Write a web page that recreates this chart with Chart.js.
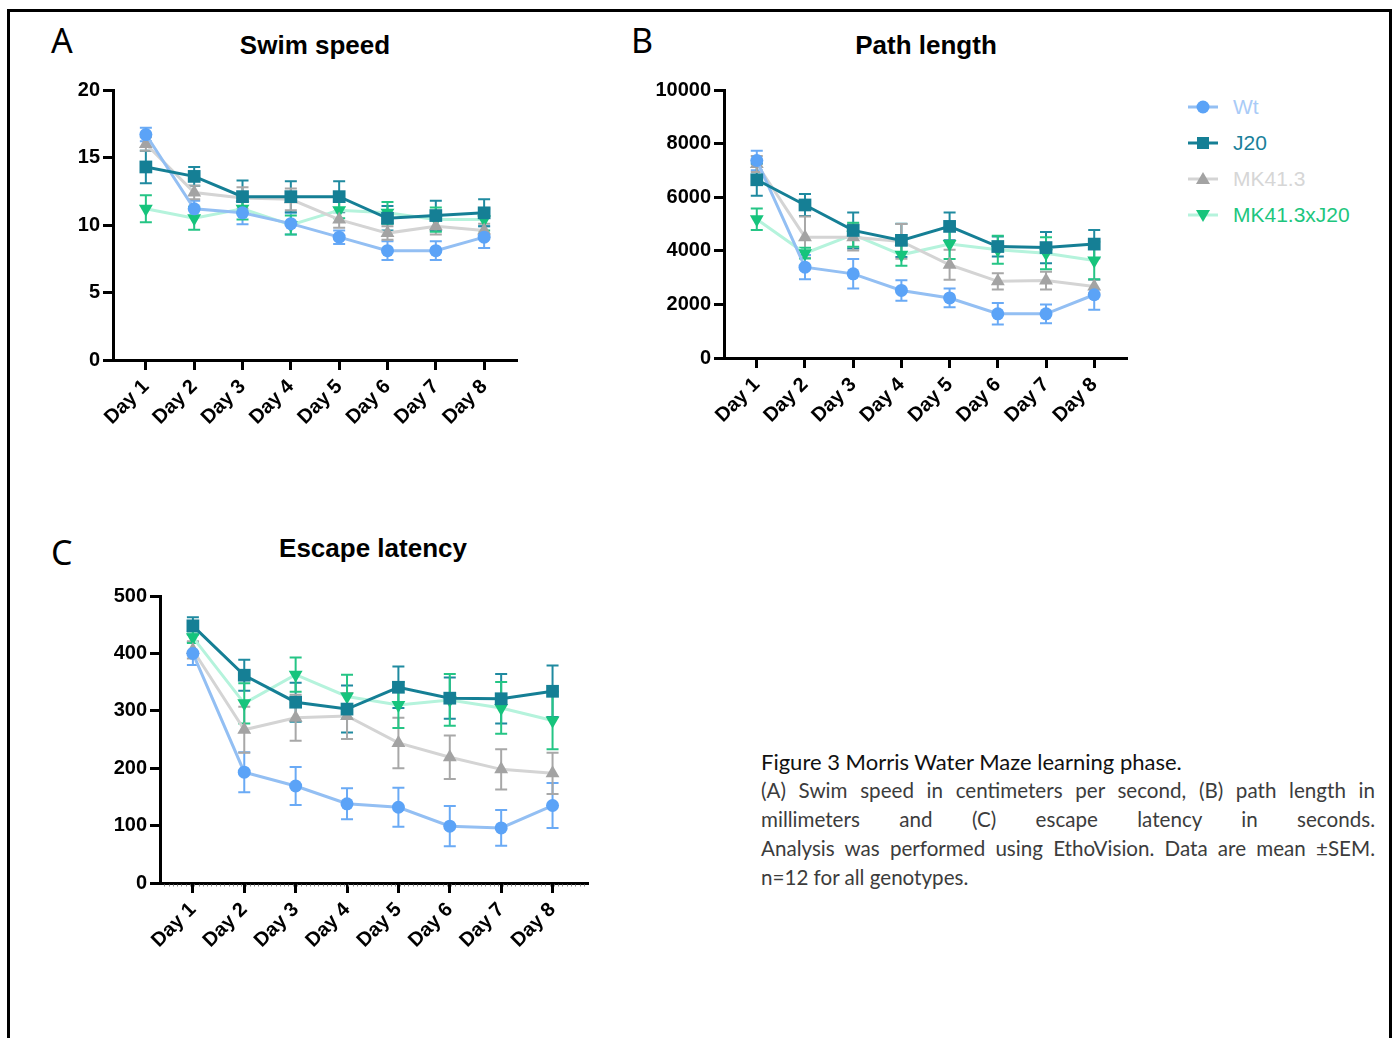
<!DOCTYPE html>
<html>
<head>
<meta charset="utf-8">
<script src="https://cdn.jsdelivr.net/npm/chart.js@4.4.1/dist/chart.umd.min.js"></script>
<style>
  body { margin: 0; background: #fff; width: 1394px; height: 1038px; position: relative; overflow: hidden;
         font-family: "Liberation Sans", Arial, sans-serif; }
  canvas { position: absolute; }
  .frame { position: absolute; left: 7px; top: 9px; width: 1379px; height: 1040px;
           border-top: 3px solid #000; border-left: 3px solid #000; border-right: 3px solid #000; }
  .lbl { position: absolute; white-space: nowrap; }
  .letter { font-family: "Noto Sans", sans-serif; font-size: 34px; height: 40px; line-height: 40px; color: #000; }
  .title { font-weight: bold; font-size: 26px; height: 30px; line-height: 30px; color: #000;
           width: 400px; text-align: center; }
  .leg { position: absolute; left: 1186px; height: 24px; }
  .leg svg { position: absolute; left: 0; top: 0; }
  .leg span { position: absolute; left: 47px; top: 0; line-height: 24px; font-size: 21px; white-space: nowrap; }
  .cap { position: absolute; left: 761px; width: 614px; font-family: Lato, "Open Sans", sans-serif; }
  .cap div { height: 29px; line-height: 29px; }
  .cap .head { font-size: 22px; color: #111; }
  .cap .j { text-align: justify; text-align-last: justify; font-size: 20.6px; color: #3c3c3c; }
  .cap .l { font-size: 20.6px; color: #3c3c3c; }
</style>
</head>
<body>
<div class="frame"></div>

<div class="lbl letter" style="left:51px; top:20px;">A</div>
<div class="lbl letter" style="left:631px; top:20px;">B</div>
<div class="lbl letter" style="left:51px; top:532px;">C</div>

<div class="lbl title" style="left:115px; top:30px;">Swim speed</div>
<div class="lbl title" style="left:726px; top:30px;">Path length</div>
<div class="lbl title" style="left:173px; top:533px;">Escape latency</div>

<canvas id="chartA" width="520" height="400" style="left:30px; top:60px;"></canvas>
<canvas id="chartB" width="520" height="400" style="left:640px; top:60px;"></canvas>
<canvas id="chartC" width="560" height="420" style="left:60px; top:560px;"></canvas>

<div id="legend"></div>

<div class="cap" style="top:747px;">
  <div class="head">Figure 3 Morris Water Maze learning phase.</div>
  <div class="j">(A) Swim speed in centimeters per second, (B) path length in</div>
  <div class="j">millimeters and (C) escape latency in seconds.</div>
  <div class="j">Analysis was performed using EthoVision. Data are mean ±SEM.</div>
  <div class="l">n=12 for all genotypes.</div>
</div>

<script>
const days = ['Day 1', 'Day 2', 'Day 3', 'Day 4', 'Day 5', 'Day 6', 'Day 7', 'Day 8'];
const dayIdx = [1, 2, 3, 4, 5, 6, 7, 8];
const groups = ['Wt', 'J20', 'MK41.3', 'MK41.3xJ20'];

// A - swim speed (cm/s), mean and SEM
const swimWt = [16.7, 11.2, 10.9, 10.1, 9.1, 8.1, 8.1, 9.1];
const swimWtErr = [0.5, 0.6, 0.85, 0.8, 0.5, 0.7, 0.7, 0.8];
const swimJ20 = [14.3, 13.6, 12.1, 12.1, 12.1, 10.5, 10.7, 10.9];
const swimJ20Err = [1.2, 0.7, 1.2, 1.15, 1.15, 0.9, 1.1, 1.0];
const swimMK = [16.0, 12.4, 12.0, 11.9, 10.4, 9.4, 9.9, 9.6];
const swimMKErr = [0.5, 0.5, 0.8, 0.8, 0.6, 0.5, 0.6, 0.5];
const swimMKJ = [11.2, 10.5, 11.2, 10.0, 11.1, 10.9, 10.4, 10.4];
const swimMKJErr = [1.0, 0.85, 0.8, 0.7, 0.6, 0.8, 0.9, 0.8];

// B - path length (mm)
const pathWt = [7370, 3390, 3140, 2520, 2240, 1650, 1650, 2360];
const pathWtErr = [360, 450, 550, 380, 350, 400, 350, 560];
const pathJ20 = [6650, 5710, 4760, 4390, 4910, 4160, 4120, 4250];
const pathJ20Err = [600, 410, 670, 620, 520, 370, 580, 530];
const pathMK = [7240, 4510, 4510, 4350, 3480, 2860, 2890, 2670];
const pathMKErr = [300, 770, 500, 650, 560, 300, 330, 250];
const pathMKJ = [5180, 3910, 4600, 3850, 4250, 4040, 3910, 3640];
const pathMKJErr = [400, 200, 450, 410, 560, 520, 600, 700];

// C - escape latency (s)
const latWt = [400, 193, 169, 138, 132, 99, 96, 135];
const latWtErr = [20, 35, 33, 27, 34, 35, 31, 39];
const latJ20 = [448, 362, 315, 303, 341, 322, 321, 334];
const latJ20Err = [15, 27, 34, 41, 36, 36, 43, 45];
const latMK = [406, 267, 288, 291, 244, 219, 198, 191];
const latMKErr = [15, 40, 40, 40, 44, 38, 35, 36];
const latMKJ = [428, 313, 363, 325, 310, 319, 305, 283];
const latMKJErr = [10, 35, 30, 38, 40, 45, 45, 50];

// style per group: marker colour, line colour, point style
const styles = [
  { mark: '#5ba3f7', line: '#93bff3', err: '#6aaaf5', text: '#a9cbf7', shape: 'circle', r: 6.5, rot: 0, order: 1 },
  { mark: '#157f95', line: '#157f95', err: '#1f8aa0', text: '#1a7f9a', shape: 'rect', r: 9, rot: 0, order: 0 },
  { mark: '#a3a3a3', line: '#d4d4d4', err: '#a8a8a8', text: '#d6d6d6', shape: 'triangle', r: 8, rot: 0, order: 2 },
  { mark: '#16c47c', line: '#b5f3dc', err: '#25c585', text: '#1dc67e', shape: 'triangle', r: 8, rot: 180, order: 3 }
];

const errorBars = {
  id: 'errorBars',
  beforeDatasetsDraw(chart) {
    const { ctx, scales: { x, y } } = chart;
    chart.data.datasets.forEach(ds => {
      ctx.save();
      ctx.strokeStyle = ds.errColor;
      ctx.lineWidth = 2;
      ds.data.forEach((p, j) => {
        const px = x.getPixelForValue(p.x);
        const top = y.getPixelForValue(p.y + ds.errors[j]);
        const bot = y.getPixelForValue(p.y - ds.errors[j]);
        ctx.beginPath();
        ctx.moveTo(px, top); ctx.lineTo(px, bot);
        ctx.moveTo(px - 6, top); ctx.lineTo(px + 6, top);
        ctx.moveTo(px - 6, bot); ctx.lineTo(px + 6, bot);
        ctx.stroke();
      });
      ctx.restore();
    });
  }
};

const minorTicks = {
  id: 'minorTicks',
  afterDraw(chart, args, opts) {
    if (!opts.on) return;
    const { ctx, scales: { x } } = chart;
    const step = (x.getPixelForValue(2) - x.getPixelForValue(1)) / 12;
    ctx.save();
    ctx.strokeStyle = '#888';
    ctx.lineWidth = 1;
    ctx.beginPath();
    for (let px = x.left + step; px < x.right; px += step) {
      ctx.moveTo(Math.round(px) + 0.5, x.top + 1.5);
      ctx.lineTo(Math.round(px) + 0.5, x.top + 3.5);
    }
    ctx.stroke();
    ctx.restore();
  }
};

function makeChart(id, series, errs, p) {
  const datasets = series.map((vals, i) => {
    const s = styles[i];
    return {
      label: groups[i],
      data: vals.map((v, j) => ({ x: dayIdx[j], y: v })),
      errors: errs[i],
      errColor: s.err,
      borderColor: s.line,
      borderWidth: 3,
      backgroundColor: s.mark,
      pointBackgroundColor: s.mark,
      pointBorderColor: s.mark,
      pointBorderWidth: 0,
      pointStyle: s.shape,
      pointRadius: s.r,
      pointRotation: s.rot,
      order: s.order,
      tension: 0
    };
  });
  const tickFont = { family: '"Liberation Sans", Arial, sans-serif', size: 20, weight: 'bold' };
  return new Chart(document.getElementById(id), {
    type: 'line',
    data: { datasets },
    options: {
      responsive: false,
      animation: false,
      events: [],
      layout: { padding: { top: p.top, right: p.right, left: 0, bottom: 0 } },
      plugins: { legend: { display: false }, tooltip: { enabled: false }, minorTicks: { on: !!p.minor } },
      scales: {
        x: {
          type: 'linear',
          min: p.xMin, max: p.xMax,
          afterBuildTicks: s => { s.ticks = dayIdx.map(v => ({ value: v })); },
          afterFit: s => { s.height = p.xh; },
          grid: { drawOnChartArea: false, drawTicks: true, tickLength: 10, tickWidth: 3, tickColor: '#000' },
          border: { display: true, color: '#000', width: 3 },
          ticks: { color: '#000', font: tickFont, minRotation: 45, maxRotation: 45, padding: 5,
                   callback: v => days[v - 1] }
        },
        y: {
          min: 0, max: p.yMax,
          afterFit: s => { s.width = p.yw; },
          grid: { drawOnChartArea: false, drawTicks: true, tickLength: 10, tickWidth: 3, tickColor: '#000' },
          border: { display: true, color: '#000', width: 3 },
          ticks: { color: '#000', font: tickFont, stepSize: p.yStep, padding: 3,
                   callback: v => String(v) }
        }
      }
    },
    plugins: [errorBars, minorTicks]
  });
}

makeChart('chartA',
  [swimWt, swimJ20, swimMK, swimMKJ],
  [swimWtErr, swimJ20Err, swimMKErr, swimMKJErr],
  { top: 30, right: 33, xh: 100, yw: 83, xMin: 0.32, xMax: 8.68, yMax: 20, yStep: 5 });

makeChart('chartB',
  [pathWt, pathJ20, pathMK, pathMKJ],
  [pathWtErr, pathJ20Err, pathMKErr, pathMKJErr],
  { top: 30, right: 33, xh: 102, yw: 84, xMin: 0.32, xMax: 8.68, yMax: 10000, yStep: 2000 });

makeChart('chartC',
  [latWt, latJ20, latMK, latMKJ],
  [latWtErr, latJ20Err, latMKErr, latMKJErr],
  { top: 36, right: 32, xh: 97, yw: 100, xMin: 0.36, xMax: 8.69, yMax: 500, yStep: 100, minor: true });

// legend (HTML + svg markers)
const legendTop = [95, 131, 167, 203];
const legendBox = document.getElementById('legend');
groups.forEach((g, i) => {
  const s = styles[i];
  let marker;
  if (s.shape === 'circle') marker = `<circle cx="17" cy="12" r="6.5" fill="${s.mark}"/>`;
  else if (s.shape === 'rect') marker = `<rect x="11" y="6" width="12" height="12" fill="${s.mark}"/>`;
  else if (s.rot === 0) marker = `<polygon points="17,5 24,17 10,17" fill="${s.mark}"/>`;
  else marker = `<polygon points="10,7 24,7 17,19" fill="${s.mark}"/>`;
  const row = document.createElement('div');
  row.className = 'leg';
  row.style.top = legendTop[i] + 'px';
  row.innerHTML = `<svg width="34" height="24"><line x1="2" y1="12" x2="32" y2="12" stroke="${s.line}" stroke-width="3"/>${marker}</svg>` +
                  `<span style="color:${s.text}">${g}</span>`;
  legendBox.appendChild(row);
});
</script>
</body>
</html>
